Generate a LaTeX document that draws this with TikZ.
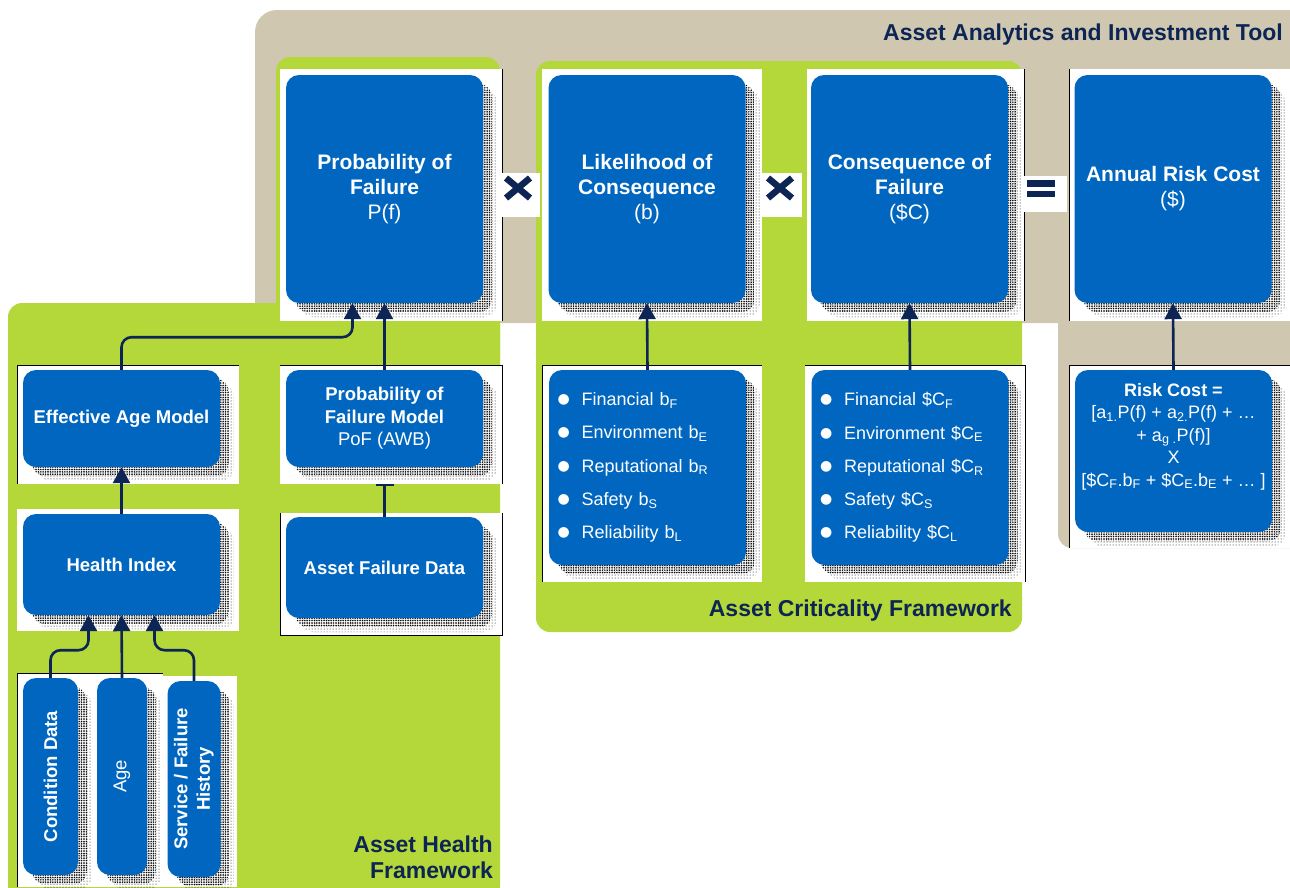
\documentclass[tikz,border=0pt]{standalone}
\usepackage{fontspec}
\setmainfont{Liberation Sans}
\newfontfamily\symfont{DejaVu Sans}
\usepackage{graphicx}
\usetikzlibrary{shadows,patterns,arrows.meta,calc}
\definecolor{boxblue}{RGB}{0,102,191}
\definecolor{navyblue}{RGB}{13,37,84}
\definecolor{tanbg}{RGB}{207,199,176}
\definecolor{limegreen}{RGB}{180,215,57}
\pgfdeclarepatternformonly{halftone}{\pgfqpoint{-1pt}{-1pt}}{\pgfqpoint{1pt}{1pt}}{\pgfqpoint{2.4pt}{2.4pt}}%
  {\pgfpathcircle{\pgfqpoint{0pt}{0pt}}{0.85pt}\pgfusepath{fill}}
\newcommand{\listdot}{\makebox[24pt][l]{\raisebox{2pt}{\symfont\fontsize{14}{14}\selectfont ●}}}
\tikzset{
every node/.style={inner sep=0pt},
dotshadow/.style=
    {general shadow={shadow xshift=14pt,shadow yshift=-14pt,pattern=dots,pattern color=black},
    general shadow={shadow xshift=9pt,shadow yshift=-9pt,pattern=halftone,pattern color=black}
    },
box/.style=
    {fill=boxblue,
    rectangle,rounded corners=13pt,
    text=white,
    align=center,
    minimum width=197pt,
    font=\fontsize{18.5}{22.5}\selectfont,
    dotshadow
    },
topbox/.style={box,minimum height=228pt,font=\fontsize{21}{25}\selectfont},
listbox/.style={box,minimum height=195pt,text width=180pt,align=left,font=\fontsize{18}{33.3}\selectfont},
tallbox/.style={box,minimum width=53pt,minimum height=197pt},
link/.style=
    {draw=navyblue,
    line width=2.6pt,
    -{Triangle[length=16pt,width=17pt]}
    },
barlink/.style={draw=navyblue,line width=2.6pt,-{Bar[width=18pt,line width=2pt]}},
signline/.style={draw=navyblue,line width=6.5pt},
panelline/.style={draw=black,line width=0.7pt},
frametitle/.style={text=navyblue,font=\bfseries\fontsize{23}{26}\selectfont}
}
\begin{document}
\begin{tikzpicture}[x=1pt,y=-1pt]
\useasboundingbox (0,0) rectangle (1290,887);
% framework panels
\fill[tanbg,rounded corners=22pt] (255,10) rectangle (1310,323);
\fill[tanbg,rounded corners=14pt] (1058,290) rectangle (1310,548);
\fill[limegreen,rounded corners=14pt] (276,57) rectangle (500,420);
\fill[limegreen,rounded corners=14pt] (8,303) rectangle (500,900);
\fill[limegreen,rounded corners=14pt] (536,61) rectangle (1022,632);
% white panels behind the boxes
\fill[white] (280,69) rectangle (502,321);
\fill[white] (542,69) rectangle (762,321);
\fill[white] (807,69) rectangle (1024,321);
\fill[white] (1069,69) rectangle (1290,321);
\fill[white] (17,365) rectangle (239,484);
\fill[white] (17,509) rectangle (239,631);
\fill[white] (280,365) rectangle (502,484);
\fill[white] (280,513) rectangle (502,635);
\fill[white] (542,365) rectangle (762,582);
\fill[white] (805,365) rectangle (1025,582);
\fill[white] (1069,365) rectangle (1290,548);
\fill[white] (17,673) rectangle (163,887);
\fill[white] (163,676) rectangle (237,887);
\draw[panelline] (502,69) -- (502,321);
\draw[panelline] (1024,69) -- (1024,321);
\draw[panelline] (1069,321) -- (1069,69);
\draw[panelline] (239,365) -- (17,365) -- (17,484);
\draw[panelline] (280,365) -- (502,365) -- (502,484);
\draw[panelline] (280,513) -- (280,635) -- (502,635) -- (502,513);
\draw[panelline] (542,582) -- (542,365) -- (762,365);
\draw[panelline] (805,365) -- (1025,365) -- (1025,582);
\draw[panelline] (1069,548) -- (1069,365) -- (1290,365);
\draw[panelline] (17,887) -- (17,673) -- (163,673);

% top row
\node[topbox] (pf) at (384.5,189) {\textbf{Probability of}\\\textbf{Failure}\\P(f)};
\node[topbox] (lik) at (647,189) {\textbf{Likelihood of}\\\textbf{Consequence}\\(b)};
\node[topbox] (con) at (909.5,189) {\textbf{Consequence of}\\\textbf{Failure}\\(\$C)};
\node[topbox] (ann) at (1173,189) {\textbf{Annual Risk Cost}\\(\$)};
% operators
\node[fill=white,minimum width=38pt,minimum height=44pt] (times1) at (521,195) {};
\node[fill=white,minimum width=40pt,minimum height=44pt] (times2) at (782,195) {};
\node[fill=white,minimum width=44pt,minimum height=36pt] (equals) at (1045,194) {};
\draw[signline] ([shift={(-15,-17)}]times1.center) -- ([shift={(9,3)}]times1.center);
\draw[signline] ([shift={(-15,3)}]times1.center) -- ([shift={(9,-17)}]times1.center);
\draw[signline] ([shift={(-14,-17)}]times2.center) -- ([shift={(10,3)}]times2.center);
\draw[signline] ([shift={(-14,3)}]times2.center) -- ([shift={(10,-17)}]times2.center);
\fill[navyblue] ([shift={(-18,-14)}]equals.center) rectangle ([shift={(10,-7)}]equals.center);
\fill[navyblue] ([shift={(-18,-3)}]equals.center) rectangle ([shift={(10,3)}]equals.center);

% asset health framework
\node[box,minimum height=97pt] (eam) at (121.5,418.5) {\textbf{Effective Age Model}};
\node[box,minimum height=101pt] (hi) at (121.5,564.5) {\textbf{Health Index}};
\node[box,minimum height=97pt] (pofm) at (384.5,418.5) {\textbf{Probability of}\\\textbf{Failure Model}\\PoF (AWB)};
\node[box,minimum height=101pt] (afd) at (384.5,567.5) {\textbf{Asset Failure Data}};
\node[tallbox,minimum width=55pt] (cond) at (50.5,776.5) {\rotatebox{90}{\textbf{Condition Data}}};
\node[tallbox,minimum width=50pt] (age) at (122,776.5) {\rotatebox{90}{Age}};
\node[tallbox,minimum height=196pt] (serv) at (194,779) {\rotatebox{90}{\begin{tabular}{@{}c@{}}\textbf{Service / Failure}\\\textbf{History}\end{tabular}}};

% asset criticality framework
\node[listbox] (likl) at (647.5,467.5) {\listdot Financial b\textsubscript{F}\\\listdot Environment b\textsubscript{E}\\\listdot Reputational b\textsubscript{R}\\\listdot Safety b\textsubscript{S}\\\listdot Reliability b\textsubscript{L}};
\node[listbox] (conl) at (910,467.5) {\listdot Financial \$C\textsubscript{F}\\\listdot Environment \$C\textsubscript{E}\\\listdot Reputational \$C\textsubscript{R}\\\listdot Safety \$C\textsubscript{S}\\\listdot Reliability \$C\textsubscript{L}};
\node[box,minimum height=162pt] (rc) at (1173.5,451) {\parbox[c][162pt][t]{192pt}{\centering\fontsize{18}{22.5}\selectfont
\rule{0pt}{26pt}\textbf{Risk Cost =}\\{}
[a\textsubscript{1.}P(f) + a\textsubscript{2.}P(f) + …\\
+ a\textsubscript{g .}P(f)]\\
X\\{}
[\$C\textsubscript{F}.b\textsubscript{F} + \$C\textsubscript{E}.b\textsubscript{E} + … ]}};

% connectors
\draw[link] (hi.north) -- (eam.south);
\draw[link,rounded corners=10pt] (eam.north) |- ($(pf.south)+(-32,34)$) -- ([xshift=-32pt]pf.south);
\draw[link] (pofm.north) -- (pf.south);
\draw[barlink] (afd.north) -- ($(pofm.south)+(0,17)$);
\draw[link] (likl.north) -- (lik.south);
\draw[link] (conl.north) -- (con.south);
\draw[link] (rc.north) -- (ann.south);
\draw[link] (age.north) -- (hi.south);
\draw[link,rounded corners=10pt] (cond.north) |- ($(hi.south)+(-33,35)$) -- ([xshift=-33pt]hi.south);
\draw[link,rounded corners=10pt] (serv.north) |- ($(hi.south)+(33,35)$) -- ([xshift=33pt]hi.south);

% framework titles
\node[frametitle,anchor=base east] (aait) at (1283,40) {Asset Analytics and Investment Tool};
\node[frametitle,anchor=base east] (acf) at (1012,616) {Asset Criticality Framework};
\node[frametitle,anchor=south east,align=right] (ahf) at (493,879) {Asset Health\\Framework};
\end{tikzpicture}
\end{document}
